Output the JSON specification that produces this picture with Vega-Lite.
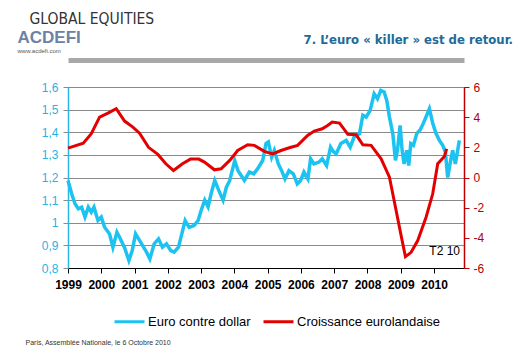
{
  "$schema": "https://vega.github.io/schema/vega-lite/v6.json",
  "width": 396,
  "height": 181,
  "autosize": {"type": "none"},
  "padding": {"left": 68, "top": 87, "right": 55, "bottom": 93},
  "background": "white",
  "title": {
    "text": "7. L’euro « killer » est de retour.",
    "anchor": "end",
    "frame": "group",
    "font": "Liberation Sans Narrow, DejaVu Sans Condensed, Liberation Sans",
    "fontSize": 13,
    "fontWeight": "bold",
    "color": "#1E6A98",
    "baseline": "alphabetic",
    "offset": 0,
    "dy": 46,
    "dx": 49
  },
  "config": {
    "view": {"stroke": "#000000", "strokeWidth": 1},
    "font": "Liberation Sans",
    "legend": {
      "orient": "none",
      "legendX": 45,
      "legendY": 218,
      "direction": "horizontal",
      "title": null,
      "symbolType": "stroke",
      "symbolSize": 900,
      "symbolStrokeWidth": 3,
      "labelFont": "Liberation Sans",
      "labelFontSize": 13,
      "labelColor": "#000000",
      "labelOffset": 2,
      "columnPadding": 6,
      "labelLimit": 300
    }
  },
  "datasets": {
    "euro": [
      {"year": 1999.00, "rate": 1.187}, {"year": 1999.11, "rate": 1.128}, {"year": 1999.21, "rate": 1.084},
      {"year": 1999.31, "rate": 1.062}, {"year": 1999.41, "rate": 1.069}, {"year": 1999.51, "rate": 1.025},
      {"year": 1999.61, "rate": 1.069}, {"year": 1999.70, "rate": 1.047}, {"year": 1999.78, "rate": 1.069},
      {"year": 1999.90, "rate": 1.01}, {"year": 2000.00, "rate": 1.025}, {"year": 2000.10, "rate": 0.98},
      {"year": 2000.25, "rate": 0.95}, {"year": 2000.35, "rate": 0.892}, {"year": 2000.47, "rate": 0.958},
      {"year": 2000.55, "rate": 0.936}, {"year": 2000.70, "rate": 0.89}, {"year": 2000.83, "rate": 0.833},
      {"year": 2000.93, "rate": 0.877}, {"year": 2001.03, "rate": 0.951}, {"year": 2001.15, "rate": 0.922},
      {"year": 2001.27, "rate": 0.892}, {"year": 2001.36, "rate": 0.87}, {"year": 2001.46, "rate": 0.84},
      {"year": 2001.59, "rate": 0.907}, {"year": 2001.72, "rate": 0.929}, {"year": 2001.84, "rate": 0.892},
      {"year": 2001.96, "rate": 0.907}, {"year": 2002.09, "rate": 0.877}, {"year": 2002.19, "rate": 0.87},
      {"year": 2002.32, "rate": 0.892}, {"year": 2002.42, "rate": 0.951}, {"year": 2002.52, "rate": 1.01},
      {"year": 2002.64, "rate": 0.98}, {"year": 2002.79, "rate": 0.988}, {"year": 2002.91, "rate": 1.01},
      {"year": 2003.00, "rate": 1.054}, {"year": 2003.11, "rate": 1.10}, {"year": 2003.21, "rate": 1.07},
      {"year": 2003.30, "rate": 1.128}, {"year": 2003.41, "rate": 1.187}, {"year": 2003.53, "rate": 1.143},
      {"year": 2003.66, "rate": 1.10}, {"year": 2003.76, "rate": 1.157}, {"year": 2003.86, "rate": 1.187},
      {"year": 2004.01, "rate": 1.275}, {"year": 2004.11, "rate": 1.23}, {"year": 2004.20, "rate": 1.21},
      {"year": 2004.30, "rate": 1.187}, {"year": 2004.45, "rate": 1.224}, {"year": 2004.58, "rate": 1.216},
      {"year": 2004.70, "rate": 1.239}, {"year": 2004.85, "rate": 1.275}, {"year": 2004.95, "rate": 1.35},
      {"year": 2005.02, "rate": 1.357}, {"year": 2005.12, "rate": 1.29}, {"year": 2005.20, "rate": 1.32},
      {"year": 2005.32, "rate": 1.26}, {"year": 2005.42, "rate": 1.23}, {"year": 2005.52, "rate": 1.194},
      {"year": 2005.64, "rate": 1.23}, {"year": 2005.77, "rate": 1.216}, {"year": 2005.89, "rate": 1.172},
      {"year": 2005.99, "rate": 1.187}, {"year": 2006.09, "rate": 1.224}, {"year": 2006.21, "rate": 1.194},
      {"year": 2006.29, "rate": 1.283}, {"year": 2006.39, "rate": 1.26}, {"year": 2006.54, "rate": 1.268},
      {"year": 2006.64, "rate": 1.283}, {"year": 2006.77, "rate": 1.253}, {"year": 2006.89, "rate": 1.334},
      {"year": 2006.97, "rate": 1.315}, {"year": 2007.06, "rate": 1.305}, {"year": 2007.20, "rate": 1.35},
      {"year": 2007.36, "rate": 1.364}, {"year": 2007.48, "rate": 1.334}, {"year": 2007.60, "rate": 1.38},
      {"year": 2007.76, "rate": 1.394}, {"year": 2007.86, "rate": 1.475}, {"year": 2007.96, "rate": 1.467},
      {"year": 2008.08, "rate": 1.497}, {"year": 2008.20, "rate": 1.57}, {"year": 2008.30, "rate": 1.548},
      {"year": 2008.40, "rate": 1.585}, {"year": 2008.50, "rate": 1.578}, {"year": 2008.58, "rate": 1.54},
      {"year": 2008.66, "rate": 1.467}, {"year": 2008.76, "rate": 1.394}, {"year": 2008.84, "rate": 1.276},
      {"year": 2008.90, "rate": 1.32}, {"year": 2008.98, "rate": 1.43}, {"year": 2009.04, "rate": 1.32},
      {"year": 2009.10, "rate": 1.26}, {"year": 2009.18, "rate": 1.32}, {"year": 2009.24, "rate": 1.253},
      {"year": 2009.30, "rate": 1.35}, {"year": 2009.38, "rate": 1.342}, {"year": 2009.48, "rate": 1.394},
      {"year": 2009.58, "rate": 1.41}, {"year": 2009.68, "rate": 1.44}, {"year": 2009.78, "rate": 1.475},
      {"year": 2009.86, "rate": 1.504}, {"year": 2009.96, "rate": 1.44}, {"year": 2010.06, "rate": 1.394},
      {"year": 2010.16, "rate": 1.364}, {"year": 2010.26, "rate": 1.342}, {"year": 2010.34, "rate": 1.312},
      {"year": 2010.41, "rate": 1.20}, {"year": 2010.48, "rate": 1.26}, {"year": 2010.56, "rate": 1.32},
      {"year": 2010.64, "rate": 1.26}, {"year": 2010.71, "rate": 1.32}, {"year": 2010.76, "rate": 1.364}
    ],
    "gdp": [
      {"year": 1999.00, "growth": 1.95}, {"year": 1999.46, "growth": 2.28}, {"year": 1999.70, "growth": 2.9},
      {"year": 1999.95, "growth": 4.0}, {"year": 2000.20, "growth": 4.27}, {"year": 2000.45, "growth": 4.56},
      {"year": 2000.70, "growth": 3.74}, {"year": 2000.95, "growth": 3.34}, {"year": 2001.15, "growth": 2.94},
      {"year": 2001.42, "growth": 2.0}, {"year": 2001.70, "growth": 1.53}, {"year": 2001.94, "growth": 0.91},
      {"year": 2002.17, "growth": 0.46}, {"year": 2002.44, "growth": 0.91}, {"year": 2002.68, "growth": 1.22},
      {"year": 2002.93, "growth": 1.22}, {"year": 2003.10, "growth": 1.02}, {"year": 2003.40, "growth": 0.51},
      {"year": 2003.60, "growth": 0.58}, {"year": 2003.86, "growth": 1.13}, {"year": 2004.10, "growth": 1.79},
      {"year": 2004.40, "growth": 2.17}, {"year": 2004.60, "growth": 2.13}, {"year": 2004.90, "growth": 1.73},
      {"year": 2005.15, "growth": 1.57}, {"year": 2005.40, "growth": 1.79}, {"year": 2005.65, "growth": 1.97},
      {"year": 2005.90, "growth": 2.13}, {"year": 2006.20, "growth": 2.79}, {"year": 2006.40, "growth": 3.08},
      {"year": 2006.64, "growth": 3.23}, {"year": 2006.80, "growth": 3.45}, {"year": 2006.94, "growth": 3.68},
      {"year": 2007.16, "growth": 3.61}, {"year": 2007.41, "growth": 2.86}, {"year": 2007.66, "growth": 2.83},
      {"year": 2007.86, "growth": 2.17}, {"year": 2008.11, "growth": 2.13}, {"year": 2008.41, "growth": 1.24},
      {"year": 2008.66, "growth": 0.02}, {"year": 2008.86, "growth": -2.19}, {"year": 2009.00, "growth": -3.74},
      {"year": 2009.14, "growth": -5.25}, {"year": 2009.31, "growth": -4.96}, {"year": 2009.51, "growth": -4.18},
      {"year": 2009.76, "growth": -2.63}, {"year": 2009.96, "growth": -1.08}, {"year": 2010.11, "growth": 0.91},
      {"year": 2010.31, "growth": 1.39}, {"year": 2010.38, "growth": 1.9}
    ],
    "notes": [
      {"year": 2010.78, "growth": -4.9, "label": "T2 10"}
    ]
  },
  "layer": [
    {
      "data": {"name": "euro"},
      "mark": {"type": "line", "strokeWidth": 3.5, "interpolate": "linear"},
      "encoding": {
        "x": {
          "field": "year", "type": "quantitative",
          "scale": {"domain": [1999, 2010.9], "nice": false, "zero": false},
          "axis": {
            "values": [1999, 2000, 2001, 2002, 2003, 2004, 2005, 2006, 2007, 2008, 2009, 2010],
            "format": "d",
            "grid": false,
            "domainColor": "#000000",
            "tickColor": "#000000",
            "tickSize": 5,
            "labelPadding": 6,
            "labelFont": "Liberation Sans",
            "labelFontSize": 12,
            "labelFontWeight": "bold",
            "labelColor": "#000000",
            "labelFlush": false,
            "labelOverlap": false,
            "title": "Paris, Assemblée Nationale, le 6 Octobre 2010",
            "titleX": -43,
            "titleY": 76,
            "titleAlign": "left",
            "titleAnchor": null,
            "titleBaseline": "alphabetic",
            "titleFont": "Liberation Sans",
            "titleFontSize": 7,
            "titleFontWeight": "normal",
            "titleColor": "#333333"
          }
        },
        "y": {
          "field": "rate", "type": "quantitative",
          "scale": {"domain": [0.8, 1.6], "nice": false, "zero": false},
          "axis": {
            "orient": "left",
            "values": [0.8, 0.9, 1.0, 1.1, 1.2, 1.3, 1.4, 1.5, 1.6],
            "labelExpr": "replace(format(datum.value, '.1~f'), '.', ',')",
            "labelOverlap": false,
            "grid": true,
            "gridColor": "#8A8A8A",
            "gridWidth": 1,
            "gridOpacity": 1,
            "domainColor": "#2BB5E3",
            "domainWidth": 1.5,
            "tickColor": "#8A8A8A",
            "tickSize": 5,
            "labelPadding": 5,
            "labelFont": "Liberation Sans",
            "labelFontSize": 12,
            "labelColor": "#2AB2E2",
            "title": "GLOBAL EQUITIES",
            "titleAngle": 0,
            "titleX": -39,
            "titleY": -64,
            "titleAlign": "left",
            "titleBaseline": "alphabetic",
            "titleFont": "Liberation Sans Narrow, DejaVu Sans Condensed, Liberation Sans",
            "titleFontSize": 15.5,
            "titleFontWeight": "normal",
            "titleColor": "#333333"
          }
        },
        "color": {
          "datum": "Euro contre dollar",
          "type": "nominal",
          "scale": {"domain": ["Euro contre dollar", "Croissance eurolandaise"], "range": ["#1DC3F0", "#E40000"]}
        }
      }
    },
    {
      "encoding": {
        "x": {
          "field": "year", "type": "quantitative",
          "scale": {"domain": [1999, 2010.9], "nice": false, "zero": false},
          "axis": {
            "orient": "top",
            "offset": 27,
            "domainColor": "#A8A8A8",
            "domainWidth": 5,
            "ticks": false,
            "labels": false,
            "grid": false,
            "title": "www.acdefi.com",
            "titleX": -51,
            "titleY": -8,
            "titleAlign": "left",
            "titleBaseline": "alphabetic",
            "titleFont": "Liberation Sans",
            "titleFontSize": 6,
            "titleFontWeight": "normal",
            "titleColor": "#555555"
          }
        },
        "y": {
          "field": "growth", "type": "quantitative",
          "scale": {"domain": [-6, 6], "nice": false, "zero": false},
          "axis": {
            "orient": "right",
            "values": [-6, -4, -2, 0, 2, 4, 6],
            "labelExpr": "datum.value < 0 ? '-' + abs(datum.value) : '' + datum.value",
            "labelOverlap": false,
            "grid": false,
            "domainColor": "#C00000",
            "domainWidth": 1.5,
            "tickColor": "#C00000",
            "tickSize": 5,
            "labelPadding": 4,
            "labelFont": "Liberation Sans",
            "labelFontSize": 12,
            "labelColor": "#B00000",
            "title": "ACDEFI",
            "titleAngle": 0,
            "titleX": -447,
            "titleY": -45,
            "titleAlign": "left",
            "titleBaseline": "alphabetic",
            "titleFont": "Liberation Sans",
            "titleFontSize": 17,
            "titleFontWeight": "bold",
            "titleColor": "#6C82A6"
          }
        }
      },
      "layer": [
        {
          "data": {"name": "gdp"},
          "mark": {"type": "line", "strokeWidth": 3, "interpolate": "linear"},
          "encoding": {
            "color": {
              "datum": "Croissance eurolandaise",
              "type": "nominal",
              "scale": {"domain": ["Euro contre dollar", "Croissance eurolandaise"], "range": ["#1DC3F0", "#E40000"]}
            }
          }
        },
        {
          "data": {"name": "notes"},
          "mark": {"type": "text", "align": "right", "baseline": "middle", "font": "Liberation Sans", "fontSize": 12, "color": "#000000"},
          "encoding": {
            "text": {"field": "label"}
          }
        }
      ]
    }
  ],
  "resolve": {"scale": {"y": "independent"}, "axis": {"x": "independent", "y": "independent"}}
}
